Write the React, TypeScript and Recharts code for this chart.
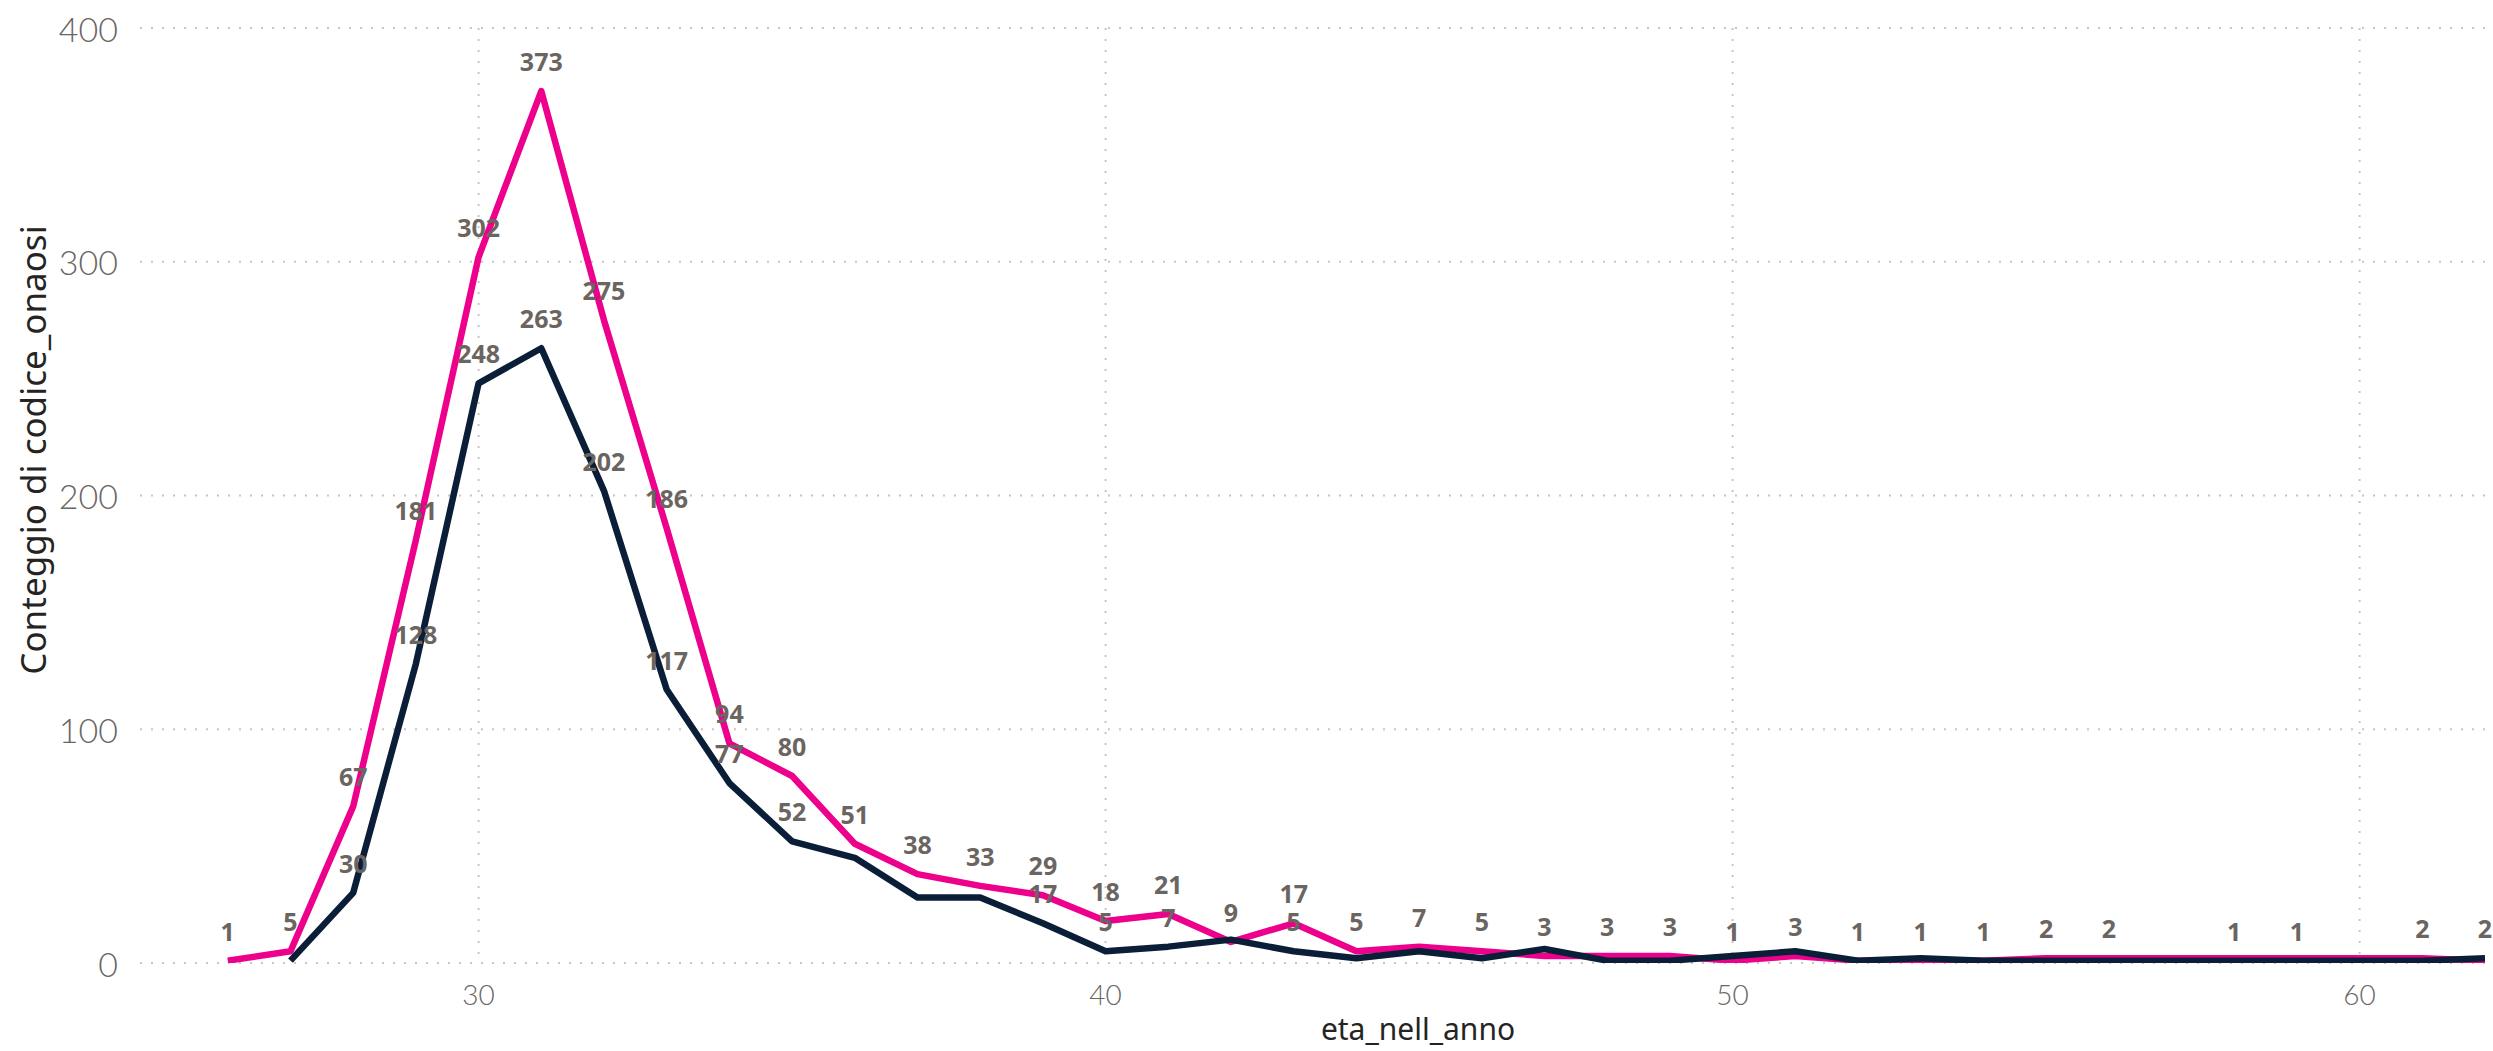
import React from "react";
import { LineChart, Line, XAxis, YAxis, CartesianGrid, LabelList } from "recharts";

// ---- data ----
const pinkAges = [26, 27, 28, 29, 30, 31, 32, 33, 34, 35, 36, 37, 38, 39, 40, 41, 42, 43, 44, 45, 46, 47, 48, 49, 50, 51, 52, 53, 54, 55, 56, 57, 58, 59, 60, 61, 62];
const pinkCounts = [1, 5, 67, 181, 302, 373, 275, 186, 94, 80, 51, 38, 33, 29, 18, 21, 9, 17, 5, 7, 5, 3, 3, 3, 1, 3, 1, 1, 1, 2, 2, 2, 2, 2, 2, 2, 1];
const pinkLabelAges = [26, 27, 28, 29, 30, 31, 32, 33, 34, 35, 36, 37, 38, 39, 40, 41, 42, 43, 44, 45, 46, 47, 48, 49, 50, 51, 52, 53, 54, 55, 56, 61];

const navyAges = [27, 28, 29, 30, 31, 32, 33, 34, 35, 36, 37, 38, 39, 40, 41, 42, 43, 44, 45, 46, 47, 48, 49, 50, 51, 52, 53, 54, 55, 56, 57, 58, 59, 60, 61, 62];
const navyCounts = [1, 30, 128, 248, 263, 202, 117, 77, 52, 45, 28, 28, 17, 5, 7, 10, 5, 2, 5, 2, 6, 1, 1, 3, 5, 1, 2, 1, 1, 1, 1, 1, 1, 1, 1, 2];
const navyLabelAges = [28, 29, 30, 31, 32, 33, 34, 35, 39, 40, 41, 43, 58, 59, 62];

const xTicks = [30, 40, 50, 60];
const yTicks = [0, 100, 200, 300, 400];
const xDomain = [24.6, 62];
const yDomain = [0, 400];

const xTitle = "eta_nell_anno";
const yTitle = "Conteggio di codice_onaosi";

const PINK = "#EC008C";
const NAVY = "#0A1E38";

const build = (ages: number[], counts: number[], labels: number[]) =>
  ages.map((a, i) => ({ x: a, y: counts[i], show: labels.includes(a) }));

const pinkData = build(pinkAges, pinkCounts, pinkLabelAges);
const navyData = build(navyAges, navyCounts, navyLabelAges);

const TICK_FONT = "'Segoe UI Light', 'Segoe UI', Lato, 'Noto Sans', sans-serif";
const LABEL_FONT = "'Segoe UI', 'Noto Sans', 'Open Sans', sans-serif";
const TITLE_FONT = "'Segoe UI', 'Noto Sans', sans-serif";

const YTick = (props: any) => (
  <text
    x={props.x}
    y={props.y}
    textAnchor="end"
    dominantBaseline="central"
    fontFamily={TICK_FONT}
    fontWeight={300}
    fontSize={34}
    fill="#6A6662"
  >
    {props.payload.value}
  </text>
);

const XTick = (props: any) => (
  <text
    x={props.x}
    y={props.y + 40}
    textAnchor="middle"
    fontFamily={TICK_FONT}
    fontWeight={300}
    fontSize={28}
    fill="#6A6662"
  >
    {props.payload.value}
  </text>
);

const makeLabel = (data: { show: boolean }[]) => (props: any) => {
  const { x, y, value, index } = props;
  if (!data[index] || !data[index].show) return null;
  return (
    <text
      x={x}
      y={y - 20}
      textAnchor="middle"
      fontFamily={LABEL_FONT}
      fontWeight={700}
      fontSize={25}
      fill="#6B6561"
    >
      {value}
    </text>
  );
};

export default function App() {
  return (
    <div style={{ position: "absolute", left: 0, top: 0, width: 2493, height: 1051, background: "#fff" }}>
      <LineChart
        width={2493}
        height={1051}
        margin={{ top: 28, right: 8, bottom: 0, left: 0 }}
      >
        <CartesianGrid
          stroke="#C8C6C4"
          strokeWidth={2}
          strokeDasharray="2 9"
          horizontalValues={yTicks}
          verticalValues={xTicks}
        />
        <XAxis
          type="number"
          dataKey="x"
          domain={xDomain}
          ticks={xTicks}
          allowDataOverflow
          axisLine={false}
          tickLine={false}
          tickSize={0}
          height={88}
          tick={<XTick />}
          interval={0}
          label={{
            content: () => (
              <text
                x={1418}
                y={1040}
                textAnchor="middle"
                fontFamily={TITLE_FONT}
                fontSize={30}
                fill="#252423"
              >
                {xTitle}
              </text>
            ),
          }}
        />
        <YAxis
          type="number"
          domain={yDomain}
          ticks={yTicks}
          allowDataOverflow
          axisLine={false}
          tickLine={false}
          tickSize={0}
          tickMargin={22}
          width={140}
          tick={<YTick />}
          interval={0}
          label={{
            content: () => (
              <text
                x={32}
                y={450}
                transform="rotate(-90 32 450)"
                textAnchor="middle"
                dominantBaseline="central"
                fontFamily={TITLE_FONT}
                fontSize={35}
                fill="#252423"
              >
                {yTitle}
              </text>
            ),
          }}
        />
        <Line
          data={pinkData}
          dataKey="y"
          type="linear"
          stroke={PINK}
          strokeWidth={6.5}
          strokeLinejoin="round"
          dot={false}
          activeDot={false}
          isAnimationActive={false}
        >
          <LabelList dataKey="y" content={makeLabel(pinkData)} />
        </Line>
        <Line
          data={navyData}
          dataKey="y"
          type="linear"
          stroke={NAVY}
          strokeWidth={6.5}
          strokeLinejoin="round"
          dot={false}
          activeDot={false}
          isAnimationActive={false}
        >
          <LabelList dataKey="y" content={makeLabel(navyData)} />
        </Line>
      </LineChart>
    </div>
  );
}
